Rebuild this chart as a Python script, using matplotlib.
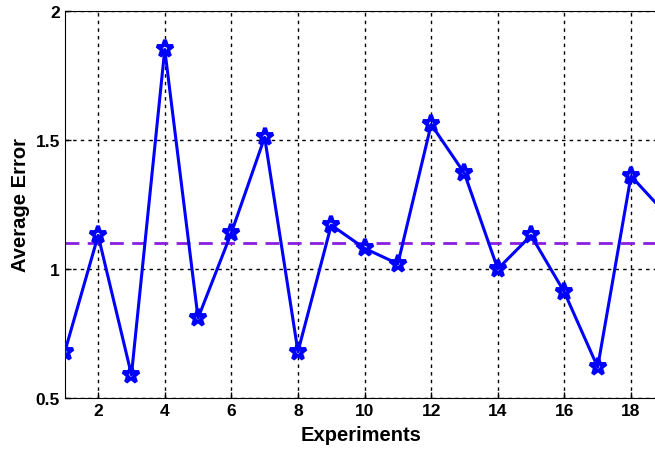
import matplotlib.pyplot as plt

experiments = list(range(1, 21))
avg_error = [0.68, 1.13, 0.59, 1.85, 0.81, 1.14, 1.51, 0.68, 1.17, 1.08,
             1.02, 1.56, 1.37, 1.00, 1.13, 0.91, 0.62, 1.36, 1.22, 1.05]
mean_error = 1.1

plt.rcParams['font.family'] = ['Liberation Sans', 'DejaVu Sans']
plt.rcParams['font.weight'] = 'bold'

fig = plt.figure(figsize=(6.55, 4.52), dpi=100)
ax = fig.add_axes([0.099, 0.117, 0.905, 0.857])

ax.plot(experiments, avg_error, color='#0000ff', linewidth=2.2,
        marker='*', markersize=12.5, markerfacecolor='none',
        markeredgewidth=2.8, markeredgecolor='#0000ff', zorder=3)
ax.axhline(mean_error, color='#8a1fe0', linestyle=(0, (5, 3)),
           linewidth=2, zorder=2)

ax.set_xlim(1, 18.8)
ax.set_ylim(0.5, 2)
ax.set_xticks(range(2, 19, 2))
ax.set_yticks([0.5, 1, 1.5, 2])
ax.set_yticklabels(['0.5', '1', '1.5', '2'])
ax.tick_params(direction='in', length=4, labelsize=12.5, width=1)
for lbl in ax.get_xticklabels() + ax.get_yticklabels():
    lbl.set_fontweight('bold')

ax.grid(True, color='black', linestyle=(0, (2.5, 3)), linewidth=1)
ax.set_axisbelow(True)
ax.spines['right'].set_visible(False)

ax.set_xlabel('Experiments', fontsize=14.5, fontweight='bold', labelpad=5)
ax.set_ylabel('Average Error', fontsize=14.5, fontweight='bold', labelpad=4)

fig.savefig('out.png', dpi=100)
